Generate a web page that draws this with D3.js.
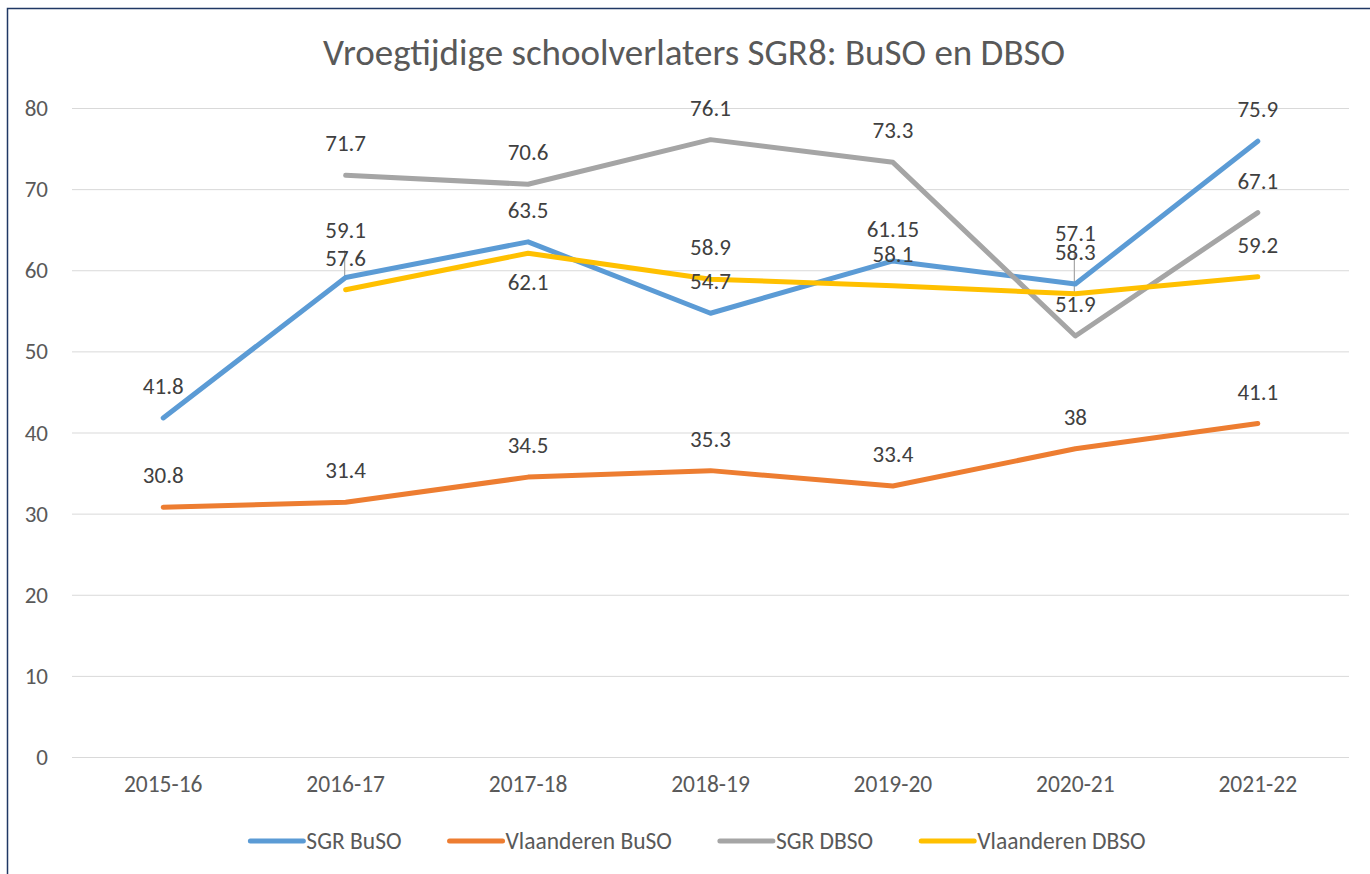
<html>
<head>
<meta charset="utf-8">
<script src="https://d3js.org/d3.v7.min.js"></script>
<style>
  html, body { margin:0; padding:0; background:#fff; }
  svg { display:block; }
</style>
</head>
<body>
<svg class="svg"></svg>
<script>

// data
const years = ["2015-16","2016-17","2017-18","2018-19","2019-20","2020-21","2021-22"]
const sgrBuso = [41.8, 59.1, 63.5, 54.7, 61.15, 58.3, 75.9]
const vlBuso = [30.8, 31.4, 34.5, 35.3, 33.4, 38, 41.1]
const sgrDbso = [null, 71.7, 70.6, 76.1, 73.3, 51.9, 67.1]
const vlDbso = [null, 57.6, 62.1, 58.9, 58.1, 57.1, 59.2]
const yTicks = [0,10,20,30,40,50,60,70,80]

const series = [
  {name:"SGR BuSO", values:sgrBuso, color:"#5B9BD5"},
  {name:"Vlaanderen BuSO", values:vlBuso, color:"#ED7D31"},
  {name:"SGR DBSO", values:sgrDbso, color:"#A5A5A5"},
  {name:"Vlaanderen DBSO", values:vlDbso, color:"#FFC000"}
]

// labels that were dragged off their default spot (px, relative to default)
const labelNudge = {"SGR BuSO|2016-17": -16, "Vlaanderen DBSO|2017-18": 61, "Vlaanderen DBSO|2020-21": -29}
const leaders = ["SGR BuSO|2016-17", "Vlaanderen DBSO|2020-21"]

const W = 1370, H = 874
const font = "Carlito, Calibri, Lato, sans-serif"

var svg = d3.select("svg").attr("width", W).attr("height", H)

// chart border (left + top visible)
svg.append("path")
  .attr("d", "M7.5," + H + " V8.5 H" + W)
  .attr("fill","none")
  .attr("stroke","#203864")
  .attr("stroke-width",1.5)

var x = d3.scalePoint().domain(years).range([72,1349]).padding(0.5)
var y = d3.scaleLinear().domain([0,80]).range([757,108])

// gridlines
svg.append("g").selectAll("line")
  .data(yTicks).enter().append("line")
  .attr("x1",72).attr("x2",1349)
  .attr("y1",d=>y(d)+0.5).attr("y2",d=>y(d)+0.5)
  .attr("stroke","#D9D9D9").attr("stroke-width",1)

// y tick labels
svg.append("g").selectAll("text")
  .data(yTicks).enter().append("text")
  .attr("x",48).attr("y",d=>y(d))
  .attr("dy","0.35em")
  .attr("text-anchor","end")
  .style("font-family",font).style("font-size","23px")
  .style("fill","#595959")
  .text(d=>d)

// x labels
svg.append("g").selectAll("text")
  .data(years).enter().append("text")
  .attr("x",d=>x(d)).attr("y",784)
  .attr("dy","0.35em")
  .attr("text-anchor","middle")
  .style("font-family",font).style("font-size","23.5px")
  .style("fill","#595959")
  .text(d=>d)

// title
svg.append("text")
  .attr("x",694).attr("y",52)
  .attr("dy","0.35em")
  .attr("text-anchor","middle")
  .style("font-family",font).style("font-size","37px")
  .style("fill","#595959")
  .text("Vroegtijdige schoolverlaters SGR8: BuSO en DBSO")

const line = d3.line()
  .defined(d=>d.v!=null)
  .x(d=>x(d.year))
  .y(d=>y(d.v))

series.forEach(function(s){
  s.points = years.map((yr,i)=>({year:yr, v:s.values[i], key:s.name+"|"+yr}))
})

// leader lines
series.forEach(function(s){
  s.points.filter(p=>leaders.indexOf(p.key)>=0).forEach(function(p){
    var ly = y(p.v) - 32 + (labelNudge[p.key]||0)
    svg.append("line")
      .attr("x1",x(p.year)-1).attr("x2",x(p.year)-1)
      .attr("y1",ly+21).attr("y2",y(p.v)-1)
      .attr("stroke","#A6A6A6").attr("stroke-width",1.2)
  })
})

series.forEach(function(s){
  svg.append("path")
    .datum(s.points)
    .attr("d",line)
    .attr("fill","none")
    .attr("stroke",s.color)
    .attr("stroke-width",5)
    .attr("stroke-linecap","round")
    .attr("stroke-linejoin","round")
})

// data labels
series.forEach(function(s){
  svg.append("g").selectAll("text")
    .data(s.points.filter(p=>p.v!=null)).enter().append("text")
    .attr("x",d=>x(d.year))
    .attr("y",d=>y(d.v) - 32 + (labelNudge[d.key]||0))
    .attr("dy","0.35em")
    .attr("text-anchor","middle")
    .style("font-family",font).style("font-size","23px")
    .style("fill","#404040")
    .text(d=>d.v)
})

// legend
var legend = svg.append("g")
var lx = 0
series.forEach(function(s){
  var g = legend.append("g").attr("transform","translate("+lx+",0)")
  g.append("line")
    .attr("x1",2).attr("x2",55).attr("y1",0).attr("y2",0)
    .attr("stroke",s.color).attr("stroke-width",5)
    .attr("stroke-linecap","round")
  var t = g.append("text")
    .attr("x",58).attr("y",0).attr("dy","0.35em")
    .style("font-family",font).style("font-size","23.5px")
    .style("fill","#595959")
    .text(s.name)
  lx += 58 + t.node().getComputedTextLength() + 46
})
lx -= 46
legend.attr("transform","translate("+(697-lx/2)+",841)")

</script>
</body>
</html>
